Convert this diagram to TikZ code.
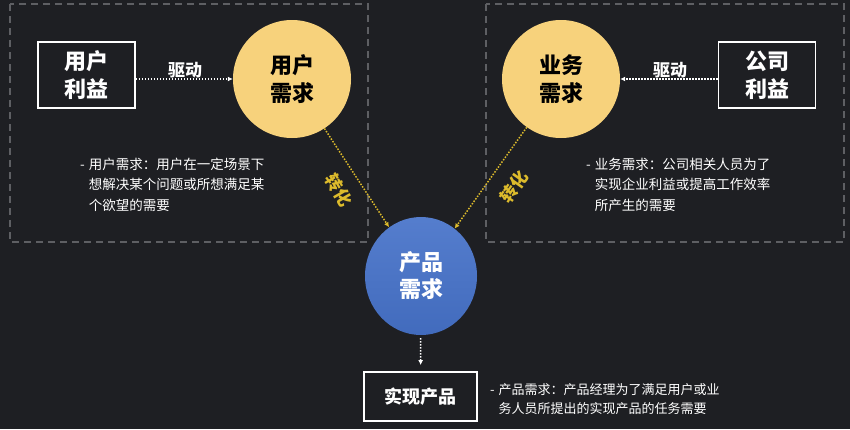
\documentclass[tikz,border=0pt]{standalone}
\usepackage{fontspec}
\setmainfont{Noto Sans CJK SC}
\usepackage{tikz}
\usetikzlibrary{arrows.meta,shapes.geometric}

\definecolor{bgdark}{HTML}{1E1F23}
\definecolor{framegray}{HTML}{5E5F63}
\definecolor{needyellow}{HTML}{F7D27C}
\definecolor{turnyellow}{HTML}{DDBB2C}
\definecolor{prodblue}{HTML}{4672C9}

\begin{document}
\begin{tikzpicture}[x=1pt,y=-1pt,>=Latex,
  frame/.style={draw=framegray,line width=1.3pt,dash pattern=on 7pt off 5pt},
  benefit/.style={draw=white,line width=1.8pt,minimum width=97pt,minimum height=66pt,
    text=white,align=center,font=\fontsize{22}{28}\selectfont\bfseries},
  need/.style={circle,minimum size=118pt,inner sep=0pt,fill=needyellow,text=black,
    align=center,font=\fontsize{22}{28}\selectfont\bfseries},
  drive/.style={draw=white,line width=1.5pt,dash pattern=on 1.5pt off 1.5pt,
    -{Latex[length=5pt,width=5pt]}},
  turn/.style={drive,draw=turnyellow,-{Latex[length=5pt,width=5pt,fill=turnyellow]}},
  arrowlabel/.style={font=\fontsize{17}{20}\selectfont\bfseries,text=white},
  turnlabel/.style={font=\fontsize{17}{20}\selectfont\bfseries,text=turnyellow,inner sep=0pt},
  note/.style={anchor=base west,inner sep=0pt,text=white,font=\fontsize{13.5}{20.5}\selectfont}]

  % background and the two dashed areas
  \fill[bgdark] (0,0) rectangle (850,429);
  \draw[frame] (10,4) rectangle (368,242);
  \draw[frame] (486,4) rectangle (844,242);

  % user side
  \node[benefit] (uben) at (86.5,75) {用户\\利益};
  \node[need] (uneed) at (292,79) {用户\\需求};
  \draw[drive] (uben.east |- uneed) -- (uneed.west);
  \node[arrowlabel] (udrive) at (185,70) {驱动};
  \node[note] (unote) at (80,169) {\begin{tabular}[t]{@{}l@{\hspace{4pt}}l@{}}
    - & 用户需求：用户在一定场景下\\
      & 想解决某个问题或所想满足某\\
      & 个欲望的需要\end{tabular}};

  % business side
  \node[benefit] (cben) at (767,75) {公司\\利益};
  \node[need] (bneed) at (561,79) {业务\\需求};
  \draw[drive] (cben.west |- bneed) -- (bneed.east);
  \node[arrowlabel] (cdrive) at (670,70) {驱动};
  \node[note] (bnote) at (586,169) {\begin{tabular}[t]{@{}l@{\hspace{4pt}}l@{}}
    - & 业务需求：公司相关人员为了\\
      & 实现企业利益或提高工作效率\\
      & 所产生的需要\end{tabular}};

  % product
  \node[ellipse,minimum width=112pt,minimum height=118pt,inner sep=0pt,
    top color=prodblue!92!white,bottom color=prodblue!94!black,text=white,align=center,
    font=\fontsize{22}{27}\selectfont\bfseries] (pneed) at (421,276) {产品\\需求};
  \draw[turn] (uneed) -- (pneed);
  \draw[turn] (bneed) -- (pneed);
  \node[turnlabel,rotate=-60] (uturn) at (339,190) {转化};
  \node[turnlabel,rotate=55] (bturn) at (514,187) {转化};

  \node[draw=white,line width=1.8pt,minimum width=113pt,minimum height=49pt,text=white,
    font=\fontsize{18}{22}\selectfont\bfseries] (impl) at (420.5,396.5) {实现产品};
  \draw[drive,shorten <=3pt,shorten >=6pt] (pneed) -- (impl);
  \node[note] (pnote) at (490,394) {\fontsize{13}{19.5}\selectfont
    \begin{tabular}[t]{@{}l@{\hspace{4pt}}l@{}}
    - & 产品需求：产品经理为了满足用户或业\\
      & 务人员所提出的实现产品的任务需要\end{tabular}};
\end{tikzpicture}
\end{document}
